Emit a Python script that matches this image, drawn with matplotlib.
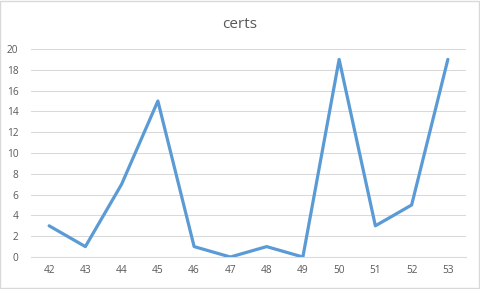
import matplotlib
matplotlib.use('Agg')
import matplotlib.pyplot as plt
from matplotlib.patches import Rectangle

# 数据
categories = ['42', '43', '44', '45', '46', '47', '48', '49', '50', '51', '52', '53']
certs = [3, 1, 7, 15, 1, 0, 1, 0, 19, 3, 5, 19]
yticks = [0, 2, 4, 6, 8, 10, 12, 14, 16, 18, 20]

plt.rcParams['font.family'] = ['Open Sans', 'DejaVu Sans']

fig = plt.figure(figsize=(4.8, 2.89), dpi=100)
ax = fig.add_axes([31 / 480, 1 - 257 / 289, 435 / 480, 208 / 289])

x = list(range(len(categories)))
ax.plot(x, certs, color='#5B9BD5', linewidth=2.3, solid_joinstyle='round', solid_capstyle='round', zorder=3)

ax.set_xlim(-0.5, len(categories) - 0.5)
ax.set_ylim(0, 20)
ax.set_xticks(x)
ax.set_xticklabels(categories)
ax.set_yticks(yticks)
ax.grid(axis='y', color='#D9D9D9', linewidth=0.75)
ax.set_axisbelow(True)
for s in ['top', 'right', 'left']:
    ax.spines[s].set_visible(False)
ax.spines['bottom'].set_color('#D9D9D9')
ax.spines['bottom'].set_linewidth(0.75)
ax.tick_params(length=0, labelsize=7.3, colors='#595959')
ax.tick_params(axis='y', pad=9)
ax.tick_params(axis='x', pad=6)

fig.text(0.5, 1 - 24 / 289, 'certs', ha='center', va='center', fontsize=11, color='#595959')

# 外边框
fig.patches.append(Rectangle((0.001, 0.002), 0.997, 0.995, transform=fig.transFigure,
                             fill=False, edgecolor='#D9D9D9', linewidth=1))

fig.savefig('out.png', dpi=100)
